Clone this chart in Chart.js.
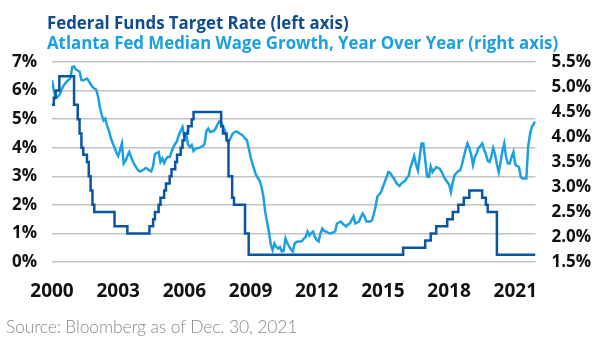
<!DOCTYPE html>
<html>
<head>
<meta charset="utf-8">
<script src="https://cdn.jsdelivr.net/npm/chart.js@4.4.1/dist/chart.umd.min.js"></script>
<style>
  html, body { margin: 0; padding: 0; background: #fff; }
  #wrap { position: relative; width: 605px; height: 341px; overflow: hidden; }
  #chart { position: absolute; left: 0; top: 0; }
  .title { position: absolute; left: 47px; font-family: "Open Sans", sans-serif; font-weight: 700; font-size: 18.5px; line-height: 20px; white-space: nowrap; transform: scaleX(0.91); transform-origin: 0 0; }
  #t1 { top: 12px; color: #0f4c91; }
  #t2 { top: 32px; color: #1a9fdf; }
  #source { position: absolute; left: 6px; top: 316px; font-family: Lato, sans-serif; font-weight: 300; font-size: 17.5px; letter-spacing: -0.15px; line-height: 22px; color: #8a8a8a; white-space: nowrap; }
</style>
</head>
<body>
<div id="wrap">
  <canvas id="chart" width="605" height="341"></canvas>
  <div class="title" id="t1">Federal Funds Target Rate (left axis)</div>
  <div class="title" id="t2">Atlanta Fed Median Wage Growth, Year Over Year (right axis)</div>
  <div id="source">Source: Bloomberg as of Dec. 30, 2021</div>
</div>
<script>
const years = [2000, 2001, 2002, 2003, 2004, 2005, 2006, 2007, 2008, 2009, 2010,
  2011, 2012, 2013, 2014, 2015, 2016, 2017, 2018, 2019, 2020, 2021];

// fed funds target (upper bound), end of month, Jan..Dec per row
const fedFunds = [
  5.5, 5.75, 6, 6, 6.5, 6.5, 6.5, 6.5, 6.5, 6.5, 6.5, 6.5,
  5.5, 5.5, 5, 4.5, 4, 3.75, 3.75, 3.5, 3, 2.5, 2, 1.75,
  1.75, 1.75, 1.75, 1.75, 1.75, 1.75, 1.75, 1.75, 1.75, 1.75, 1.25, 1.25,
  1.25, 1.25, 1.25, 1.25, 1.25, 1, 1, 1, 1, 1, 1, 1,
  1, 1, 1, 1, 1, 1.25, 1.25, 1.5, 1.75, 1.75, 2, 2.25,
  2.25, 2.5, 2.75, 2.75, 3, 3.25, 3.25, 3.5, 3.75, 3.75, 4, 4.25,
  4.5, 4.5, 4.75, 4.75, 5, 5.25, 5.25, 5.25, 5.25, 5.25, 5.25, 5.25,
  5.25, 5.25, 5.25, 5.25, 5.25, 5.25, 5.25, 5.25, 4.75, 4.5, 4.5, 4.25,
  3, 3, 2.25, 2, 2, 2, 2, 2, 2, 1, 1, 0.25,
  0.25, 0.25, 0.25, 0.25, 0.25, 0.25, 0.25, 0.25, 0.25, 0.25, 0.25, 0.25,
  0.25, 0.25, 0.25, 0.25, 0.25, 0.25, 0.25, 0.25, 0.25, 0.25, 0.25, 0.25,
  0.25, 0.25, 0.25, 0.25, 0.25, 0.25, 0.25, 0.25, 0.25, 0.25, 0.25, 0.25,
  0.25, 0.25, 0.25, 0.25, 0.25, 0.25, 0.25, 0.25, 0.25, 0.25, 0.25, 0.25,
  0.25, 0.25, 0.25, 0.25, 0.25, 0.25, 0.25, 0.25, 0.25, 0.25, 0.25, 0.25,
  0.25, 0.25, 0.25, 0.25, 0.25, 0.25, 0.25, 0.25, 0.25, 0.25, 0.25, 0.25,
  0.25, 0.25, 0.25, 0.25, 0.25, 0.25, 0.25, 0.25, 0.25, 0.25, 0.25, 0.5,
  0.5, 0.5, 0.5, 0.5, 0.5, 0.5, 0.5, 0.5, 0.5, 0.5, 0.5, 0.75,
  0.75, 0.75, 1, 1, 1, 1.25, 1.25, 1.25, 1.25, 1.25, 1.25, 1.5,
  1.5, 1.5, 1.75, 1.75, 1.75, 2, 2, 2, 2.25, 2.25, 2.25, 2.5,
  2.5, 2.5, 2.5, 2.5, 2.5, 2.5, 2.25, 2.25, 2, 1.75, 1.75, 1.75,
  1.75, 1.75, 0.25, 0.25, 0.25, 0.25, 0.25, 0.25, 0.25, 0.25, 0.25, 0.25,
  0.25, 0.25, 0.25, 0.25, 0.25, 0.25, 0.25, 0.25, 0.25, 0.25, 0.25, 0.25
];

// Atlanta Fed median wage growth, y/y, monthly
const wageGrowth = [
  5.14, 4.94, 4.78, 4.80, 4.84, 4.93, 5.01, 5.06, 5.11, 5.14, 5.18, 5.40,
  5.41, 5.35, 5.33, 5.31, 5.14, 5.13, 5.15, 5.17, 5.12, 5.06, 5.00, 4.97,
  4.95, 4.82, 4.60, 4.45, 4.33, 4.37, 4.22, 4.12, 3.98, 3.88, 3.79, 3.69,
  3.62, 3.74, 3.87, 3.47, 3.52, 3.62, 3.70, 3.60, 3.51, 3.44, 3.38, 3.33,
  3.31, 3.33, 3.35, 3.38, 3.36, 3.33, 3.31, 3.42, 3.66, 3.68, 3.70, 3.50,
  3.57, 3.48, 3.56, 3.60, 3.60, 3.70, 3.80, 3.86, 3.92, 4.04, 4.12, 4.20,
  4.00, 4.06, 3.85, 3.80, 3.84, 3.72, 3.76, 3.78, 3.78, 3.80, 3.82, 3.86,
  4.12, 4.17, 4.10, 4.11, 4.12, 4.17, 4.25, 4.31, 4.30, 4.20, 4.14, 3.97,
  3.90, 3.97, 4.05, 4.09, 4.11, 4.10, 4.07, 4.05, 4.02, 3.97, 3.94, 3.78,
  3.60, 3.47, 3.35, 3.24, 3.18, 3.12, 3.00, 2.80, 2.50, 2.30, 2.10, 1.85,
  1.74, 1.87, 1.80, 1.77, 1.80, 1.71, 1.72, 1.97, 1.88, 1.81, 1.75, 1.71,
  1.87, 1.90, 1.91, 1.91, 1.92, 1.97, 2.00, 2.11, 2.03, 2.08, 2.11, 2.00,
  1.94, 1.91, 2.07, 2.17, 2.12, 2.11, 2.09, 2.07, 2.08, 2.09, 2.11, 2.27,
  2.29, 2.31, 2.27, 2.24, 2.21, 2.25, 2.27, 2.34, 2.41, 2.27, 2.29, 2.31,
  2.40, 2.47, 2.41, 2.31, 2.31, 2.31, 2.33, 2.45, 2.61, 2.81, 2.85, 2.90,
  3.00, 3.10, 3.20, 3.30, 3.28, 3.22, 3.17, 3.10, 3.05, 3.02, 3.07, 3.10,
  3.12, 3.18, 3.22, 3.40, 3.50, 3.62, 3.45, 3.33, 3.60, 3.87, 3.87, 3.55,
  3.21, 3.20, 3.41, 3.30, 3.35, 3.40, 3.38, 3.36, 3.30, 3.22, 3.15, 3.10,
  3.05, 2.90, 3.10, 3.24, 3.28, 3.32, 3.33, 3.45, 3.60, 3.75, 3.87, 3.78,
  3.65, 3.44, 3.60, 3.67, 3.78, 3.82, 3.87, 3.75, 3.66, 3.52, 3.50, 3.62,
  3.78, 3.65, 3.45, 3.30, 3.50, 3.72, 3.87, 3.60, 3.47, 3.47, 3.60, 3.70,
  3.45, 3.42, 3.40, 3.20, 3.17, 3.17, 3.17, 3.80, 4.05, 4.20, 4.26, 4.31
];

const xTickYears = [2000, 2003, 2006, 2009, 2012, 2015, 2018, 2021];
const leftTicks = [0, 1, 2, 3, 4, 5, 6, 7];
const rightTicks = [1.5, 2.0, 2.5, 3.0, 3.5, 4.0, 4.5, 5.0, 5.5];

// decimal year for each month
const monthPos = [];
years.forEach(y => { for (let m = 0; m < 12; m++) monthPos.push(y + m / 12); });

const tickFont = { family: '"Open Sans", sans-serif', size: 17, weight: '700' };

new Chart(document.getElementById('chart').getContext('2d'), {
  type: 'line',
  data: {
    datasets: [
      {
        label: 'Federal Funds Target Rate',
        data: fedFunds.map((v, i) => ({ x: monthPos[i], y: v })),
        yAxisID: 'y',
        borderColor: '#0b56a3',
        borderWidth: 2.5,
        stepped: true,
        pointRadius: 0
      },
      {
        label: 'Atlanta Fed Median Wage Growth',
        data: wageGrowth.map((v, i) => ({ x: monthPos[i], y: v })),
        yAxisID: 'y1',
        borderColor: '#1ba1e0',
        borderWidth: 2.5,
        tension: 0,
        pointRadius: 0
      }
    ]
  },
  options: {
    responsive: false,
    animation: false,
    devicePixelRatio: 1,
    layout: { padding: { top: 62, bottom: 0, left: 0, right: 0 } },
    plugins: { legend: { display: false }, tooltip: { enabled: false } },
    scales: {
      x: {
        type: 'linear',
        min: 2000,
        max: 2021 + 11 / 12,
        afterBuildTicks: s => { s.ticks = xTickYears.map(v => ({ value: v })); },
        afterFit: s => { s.height = 79; },
        grid: { display: false },
        border: { display: false },
        ticks: {
          autoSkip: false,
          maxRotation: 0,
          padding: 10,
          color: '#111',
          font: { family: '"Open Sans", sans-serif', size: 19, weight: '700' },
          callback: v => String(v)
        }
      },
      y: {
        position: 'left',
        min: 0,
        max: 7,
        afterBuildTicks: s => { s.ticks = leftTicks.map(v => ({ value: v })); },
        afterFit: s => { s.width = 52; },
        border: { display: false },
        grid: { color: '#c4c4c4', lineWidth: 1.5, drawTicks: false },
        ticks: { padding: 15, color: '#111', font: tickFont, callback: v => v + '%' }
      },
      y1: {
        position: 'right',
        min: 1.5,
        max: 5.5,
        afterBuildTicks: s => { s.ticks = rightTicks.map(v => ({ value: v })); },
        afterFit: s => { s.width = 69.5; },
        border: { display: false },
        grid: { display: false, drawTicks: false },
        ticks: { padding: 16, color: '#111', font: tickFont, callback: v => v.toFixed(1) + '%' }
      }
    }
  }
});
</script>
</body>
</html>
